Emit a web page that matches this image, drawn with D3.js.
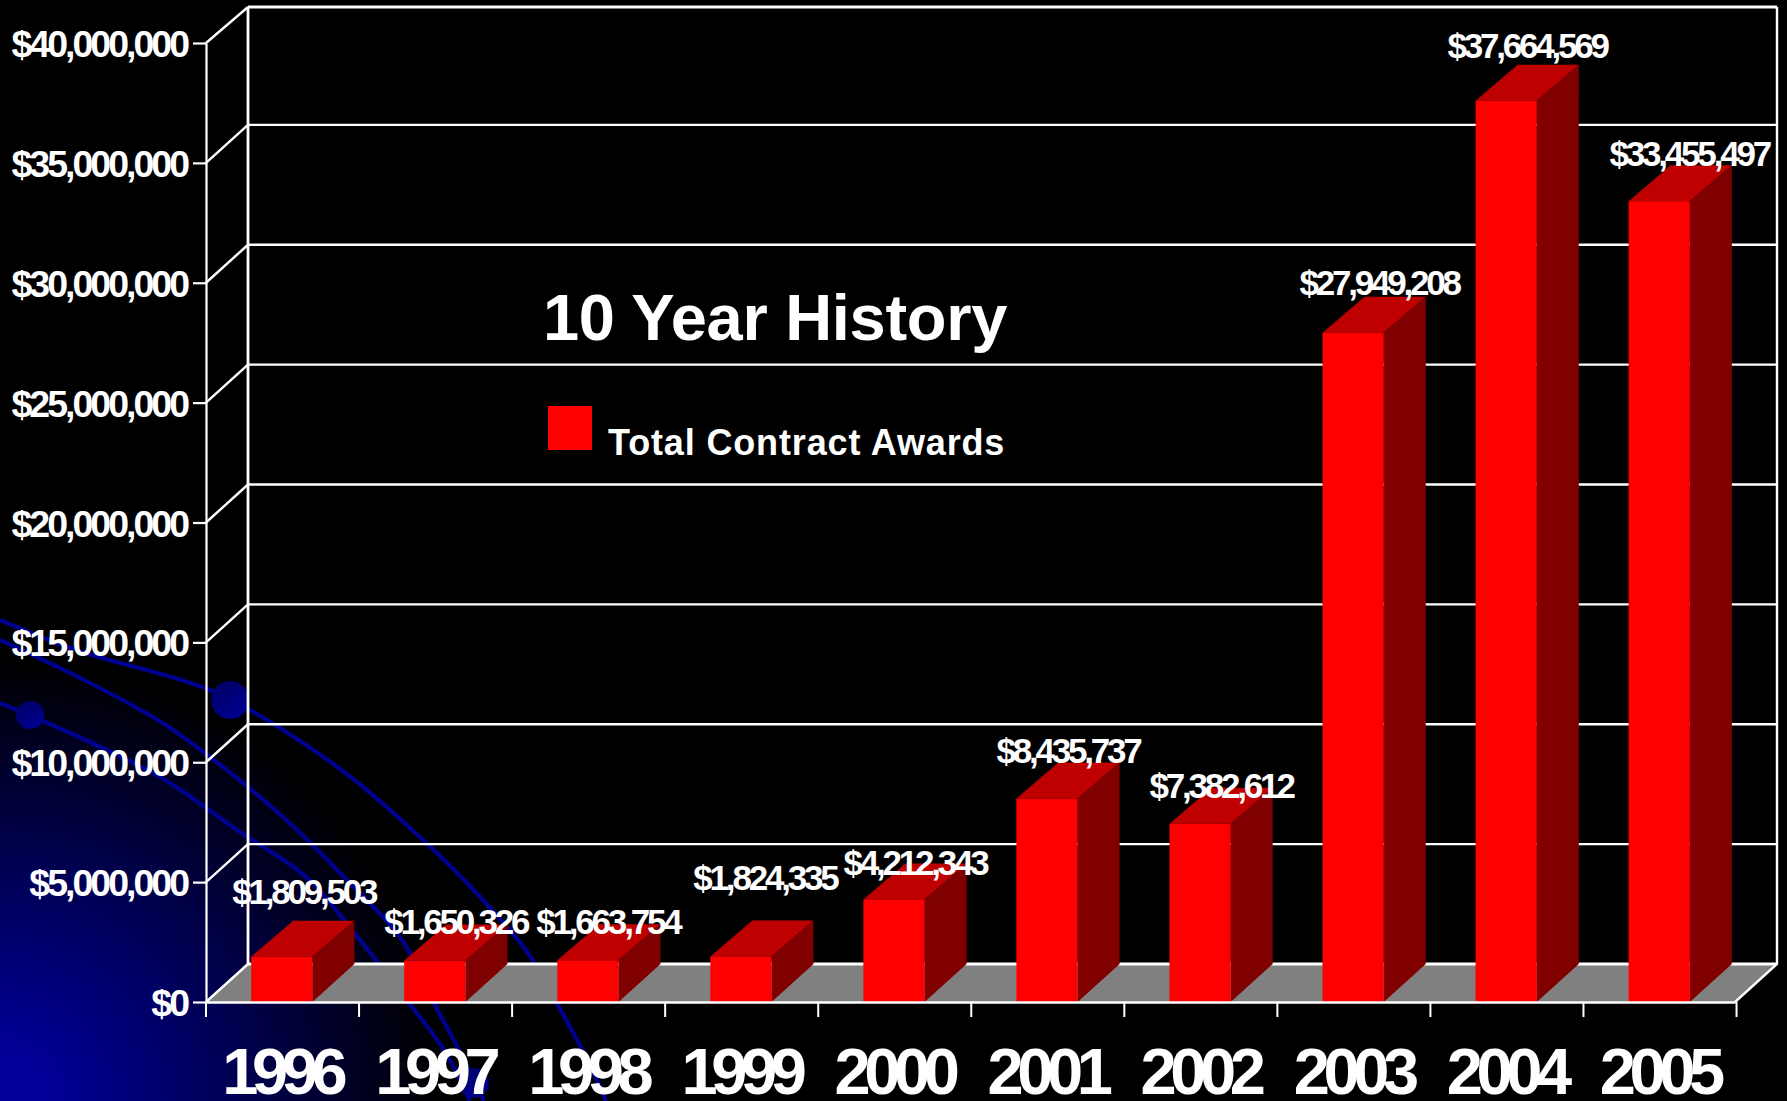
<!DOCTYPE html>
<html>
<head>
<meta charset="utf-8">
<script src="https://cdn.jsdelivr.net/npm/d3@7"></script>
<style>
  html, body { margin: 0; background: #000; overflow: hidden; }
  text { font-family: "Liberation Sans", Arial, sans-serif; fill: #fff; font-weight: bold; }
</style>
</head>
<body>
<div id="plot"></div>
<script>
// values
const years = ["1996", "1997", "1998", "1999", "2000", "2001", "2002", "2003", "2004", "2005"];
const awards = [1809503, 1650326, 1663754, 1824335, 4212343, 8435737, 7382612, 27949208, 37664569, 33455497];
const yTicks = [0, 5000000, 10000000, 15000000, 20000000, 25000000, 30000000, 35000000, 40000000];
const chartTitle = "10 Year History";
const legendLabel = "Total Contract Awards";

// the value labels were placed by hand in the original, so they carry their own nudges
const labelNudgeX = [1, 0, -1, 3, 0, 0, 0, 5, 0, 9];
const labelNudgeY = [-53, -27, -26, -66, -24, -36, -26, -38, -43, -35];

// Declare the chart dimensions.
const width = 1787, height = 1101;
const plotLeft = 206, plotRight = 1735, plotTop = 43, plotBottom = 1002;
const depthX = 42, depthY = 38, barDepthY = 36;

const x = d3.scaleBand()
    .domain(years)
    .range([plotLeft, plotRight])
    .paddingInner(0.6)
    .paddingOuter(0.295);

const y = d3.scaleLinear()
    .domain([0, 40000000])
    .range([plotBottom, plotTop]);

// the bars sit a touch inside the axis range in the original
const yBar = d3.scaleLinear()
    .domain([0, 40000000])
    .range([1000, 45]);

const svg = d3.select("#plot")
  .append("svg")
    .attr("width", width)
    .attr("height", height)
    .style("display", "block");

// slide background: blue corner glow with curved lines
const defs = svg.append("defs");
const glow = defs.append("radialGradient")
    .attr("id", "glow")
    .attr("gradientUnits", "userSpaceOnUse")
    .attr("cx", 0).attr("cy", height).attr("r", 440);
glow.append("stop").attr("offset", "0%").attr("stop-color", "#000099");
glow.append("stop").attr("offset", "10%").attr("stop-color", "#000099");
glow.append("stop").attr("offset", "55%").attr("stop-color", "#000050");
glow.append("stop").attr("offset", "100%").attr("stop-color", "#000000");

const ball = defs.append("linearGradient")
    .attr("id", "ball")
    .attr("x1", 0).attr("y1", 0).attr("x2", 0.6).attr("y2", 1);
ball.append("stop").attr("offset", "0%").attr("stop-color", "#000060");
ball.append("stop").attr("offset", "100%").attr("stop-color", "#000090");

svg.append("rect").attr("width", width).attr("height", height).attr("fill", "#000");
svg.append("rect").attr("width", width).attr("height", height).attr("fill", "url(#glow)");

const curves = [
  [[0, 620], [76, 650], [210, 690], [283, 730], [348, 775], [409, 827], [467, 883], [528, 953], [559, 1007], [590, 1065], [606, 1101]],
  [[0, 640], [88, 682], [161, 722], [214, 760], [283, 817], [344, 877], [402, 940], [434, 1003], [459, 1050], [484, 1101]],
  [[0, 703], [92, 743], [165, 780], [237, 830], [306, 877], [352, 930], [409, 1003], [444, 1050], [470, 1101]]
];
svg.append("g").selectAll("path")
  .data(curves)
  .join("path")
    .attr("fill", "none")
    .attr("stroke", "#000090")
    .attr("stroke-width", 4.2)
    .attr("d", d3.line().curve(d3.curveCatmullRom));
svg.append("g").selectAll("circle")
  .data([[230, 700, 19], [30, 715, 14], [474, 1083, 15]])
  .join("circle")
    .attr("cx", d => d[0])
    .attr("cy", d => d[1])
    .attr("r", d => d[2])
    .attr("fill", "url(#ball)");

// floor
svg.append("path")
    .attr("fill", "#808080")
    .attr("d", d3.line()([[plotLeft, plotBottom], [plotRight, plotBottom], [plotRight + depthX, plotBottom - depthY], [plotLeft + depthX, plotBottom - depthY]]));

// back wall gridlines and the slanted lines on the left wall
const backY = d => y(d) - depthY + (d === 40000000 ? 2 : 0);
const grid = svg.append("g").attr("fill", "none").attr("stroke", "#fff").attr("stroke-width", 2.4);
grid.selectAll("line.back")
  .data(yTicks)
  .join("line")
    .attr("class", "back")
    .attr("x1", plotLeft + depthX)
    .attr("x2", plotRight + depthX)
    .attr("y1", backY)
    .attr("y2", backY)
    .attr("stroke-width", d => d === 40000000 || d === 0 ? 3.2 : 2.4);
grid.selectAll("line.side")
  .data(yTicks)
  .join("line")
    .attr("class", "side")
    .attr("x1", plotLeft)
    .attr("x2", plotLeft + depthX)
    .attr("y1", d => y(d))
    .attr("y2", backY);
grid.append("path")
    .attr("stroke-width", 2.8)
    .attr("d", d3.line()([[plotLeft + depthX, backY(40000000)], [plotLeft + depthX, plotBottom - depthY]]));
grid.append("path")
    .attr("d", d3.line()([[plotRight + depthX, backY(40000000)], [plotRight + depthX, plotBottom - depthY], [plotRight, plotBottom]]));

// bars: front, top and side faces
const bars = svg.append("g").selectAll("g")
  .data(years.map((year, i) => ({ year, value: awards[i], i })))
  .join("g");
const bw = x.bandwidth();
bars.append("path")
    .attr("fill", "#bf0000")
    .attr("d", d => {
      const x0 = x(d.year), y0 = yBar(d.value);
      return d3.line()([[x0, y0], [x0 + bw, y0], [x0 + bw + depthX, y0 - barDepthY], [x0 + depthX, y0 - barDepthY]]);
    });
bars.append("path")
    .attr("fill", "#800000")
    .attr("d", d => {
      const x1 = x(d.year) + bw, y0 = yBar(d.value);
      return d3.line()([[x1, y0], [x1 + depthX, y0 - barDepthY], [x1 + depthX, plotBottom - depthY], [x1, plotBottom]]);
    });
bars.append("rect")
    .attr("fill", "#ff0000")
    .attr("x", d => x(d.year))
    .attr("y", d => yBar(d.value))
    .attr("width", bw)
    .attr("height", d => plotBottom - yBar(d.value));

// Add the y-axis
const yAxis = svg.append("g")
    .attr("transform", `translate(${plotLeft},0)`)
    .call(d3.axisLeft(y).tickValues(yTicks).tickFormat(d3.format("$,")).tickSize(13).tickSizeOuter(0).tickPadding(6));
yAxis.select(".domain").attr("stroke", "#fff").attr("stroke-width", 2.2);
yAxis.selectAll(".tick line").attr("stroke", "#fff").attr("stroke-width", 2.2);
yAxis.selectAll(".tick text")
    .style("font-size", "37.5px")
    .style("letter-spacing", "-3px")
    .attr("fill", null)
    .attr("dy", "0.36em");

// Add the x-axis: long year labels under short ticks at the band edges
const xAxis = svg.append("g")
    .attr("transform", `translate(0,${plotBottom})`)
    .call(d3.axisBottom(x).tickSize(0).tickPadding(46));
xAxis.select(".domain").attr("stroke", "#fff").attr("stroke-width", 2.4);
xAxis.selectAll(".tick text")
    .style("font-size", "65px")
    .style("letter-spacing", "-6.4px")
    .attr("fill", null);
svg.append("g").selectAll("line")
  .data(d3.range(years.length + 1))
  .join("line")
    .attr("x1", d => plotLeft + d * x.step())
    .attr("x2", d => plotLeft + d * x.step())
    .attr("y1", plotBottom)
    .attr("y2", plotBottom + 15)
    .attr("stroke", "#fff")
    .attr("stroke-width", 2);

// value labels
svg.append("g").selectAll("text")
  .data(years.map((year, i) => ({ year, value: awards[i], i })))
  .join("text")
    .attr("x", d => x(d.year) + (bw + depthX) / 2 + labelNudgeX[d.i])
    .attr("y", d => yBar(d.value) + labelNudgeY[d.i])
    .attr("text-anchor", "middle")
    .style("font-size", "35px")
    .style("letter-spacing", "-3.2px")
    .text(d => d3.format("$,")(d.value));

// title and legend sit inside the plot
svg.append("text")
    .attr("x", 543)
    .attr("y", 340)
    .style("font-size", "65px")
    .style("letter-spacing", "-0.3px")
    .text(chartTitle);
svg.append("rect")
    .attr("x", 548)
    .attr("y", 406)
    .attr("width", 44)
    .attr("height", 44)
    .attr("fill", "#ff0000");
svg.append("text")
    .attr("x", 608)
    .attr("y", 455)
    .style("font-size", "36px")
    .style("letter-spacing", "0.85px")
    .text(legendLabel);
</script>
</body>
</html>
